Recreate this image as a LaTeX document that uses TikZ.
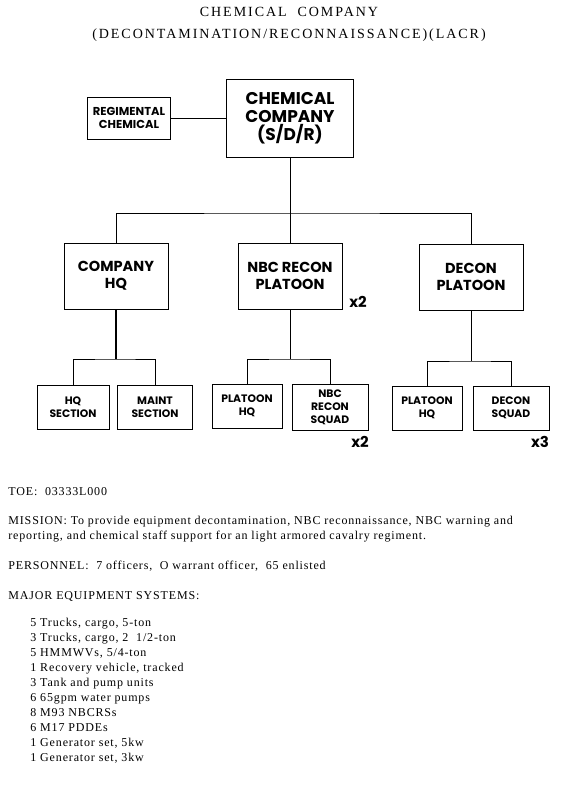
\documentclass[tikz,border=0pt]{standalone}
\usepackage{fontspec}
\setmainfont{Liberation Serif}
\newfontfamily\bodyfont[LetterSpace=7]{Liberation Serif}
\newfontfamily\titlefont[LetterSpace=14]{Liberation Serif}
\newfontfamily\boxfont{Poppins}
\usetikzlibrary{positioning}

\begin{document}
\begin{tikzpicture}[
    x=1pt, y=-1pt, % pixel-like units, y grows downwards
    line width=0.8pt,
    bigbox/.style={draw, align=center, inner sep=0pt, font=\boxfont\bfseries\fontsize{17}{18}\selectfont}, % Style for the company box
    unitbox/.style={draw, align=center, inner sep=0pt, minimum width=104, minimum height=66, font=\boxfont\bfseries\fontsize{14.5}{17}\selectfont}, % Style for platoon boxes
    smallbox/.style={draw, align=center, inner sep=0pt, minimum height=44, font=\boxfont\bfseries\fontsize{10.8}{13}\selectfont}, % Style for section boxes
    multlabel/.style={font=\boxfont\bfseries\fontsize{15}{15}\selectfont}, % Style for x2, x3
    bodytext/.style={anchor=west, inner sep=0pt, align=left, font=\bodyfont\fontsize{12}{15}\selectfont} % Style for the text block
]
    \useasboundingbox (0,0) rectangle (575,788);

    % Title
    \node[font=\titlefont\fontsize{14}{22}\selectfont, align=center] (title) at (289,24)
        {CHEMICAL\ \ COMPANY\\(DECONTAMINATION/RECONNAISSANCE)(LACR)};

    % Top level
    \node[bigbox, minimum width=127, minimum height=78] (chemco) at (290,118) {CHEMICAL\\COMPANY\\(S/D/R)};
    \node[bigbox, minimum width=83, minimum height=42, font=\boxfont\bfseries\fontsize{11.5}{13}\selectfont] (regchem) at (129,118) {REGIMENTAL\\CHEMICAL};

    % Platoons
    \node[unitbox] (cohq) at (116,276) {COMPANY\\HQ};
    \node[unitbox] (reconplt) at (290,276) {NBC RECON\\PLATOON};
    \node[unitbox] (deconplt) at (471,277) {DECON\\PLATOON};
    \node[multlabel] (recontimes) at (358,302) {x2};

    % Sections and squads
    \node[smallbox, minimum width=72] (hqsec) at (73,407) {HQ\\SECTION};
    \node[smallbox, minimum width=75] (maintsec) at (155,407) {MAINT\\SECTION};
    \node[smallbox, minimum width=70] (reconhq) at (247,406) {PLATOON\\HQ};
    \node[smallbox, minimum width=76, minimum height=46] (reconsqd) at (330,407) {NBC\\RECON\\SQUAD};
    \node[smallbox, minimum width=70] (deconhq) at (427,408) {PLATOON\\HQ};
    \node[smallbox, minimum width=76] (deconsqd) at (511,408) {DECON\\SQUAD};
    \node[multlabel] (squadtimes) at (360,442) {x2};
    \node[multlabel] (decontimes) at (540,442) {x3};

    % Connectors
    \coordinate (bus) at (290,213);
    \coordinate (hqbus) at (116,359);
    \coordinate (reconbus) at (290,359);
    \coordinate (deconbus) at (471,361);
    \draw (regchem) -- (chemco);
    \draw (chemco.south) -- (reconplt.north);
    \draw (cohq.north) |- (bus) -| (deconplt.north);
    \draw[line width=1.6pt] (cohq.south) -- (hqbus);
    \draw (hqsec.north) |- (hqbus) -| (maintsec.north);
    \draw (reconplt.south) -- (reconbus);
    \draw (reconhq.north) |- (reconbus) -| (reconsqd.north);
    \draw (deconplt.south) -- (deconbus);
    \draw (deconhq.north) |- (deconbus) -| (deconsqd.north);

    % Text block
    \node[bodytext] (toe) at (8,492) {TOE:\ \ 03333L000};
    \node[bodytext] (mission) at (8,529.5) {MISSION: To provide equipment decontamination, NBC reconnaissance, NBC warning and\\reporting, and chemical staff support for an light armored cavalry regiment.};
    \node[bodytext] (personnel) at (8,566) {PERSONNEL:\ \ 7 officers,\ \ O warrant officer,\ \ 65 enlisted};
    \node[bodytext] (equiphead) at (8,596) {MAJOR EQUIPMENT SYSTEMS:};
    \node[bodytext, anchor=north west] (equiplist) at (30,618) {5 Trucks, cargo, 5-ton\\
        3 Trucks, cargo, 2\ \ 1/2-ton\\
        5 HMMWVs, 5/4-ton\\
        1 Recovery vehicle, tracked\\
        3 Tank and pump units\\
        6 65gpm water pumps\\
        8 M93 NBCRSs\\
        6 M17 PDDEs\\
        1 Generator set, 5kw\\
        1 Generator set, 3kw};

\end{tikzpicture}
\end{document}
